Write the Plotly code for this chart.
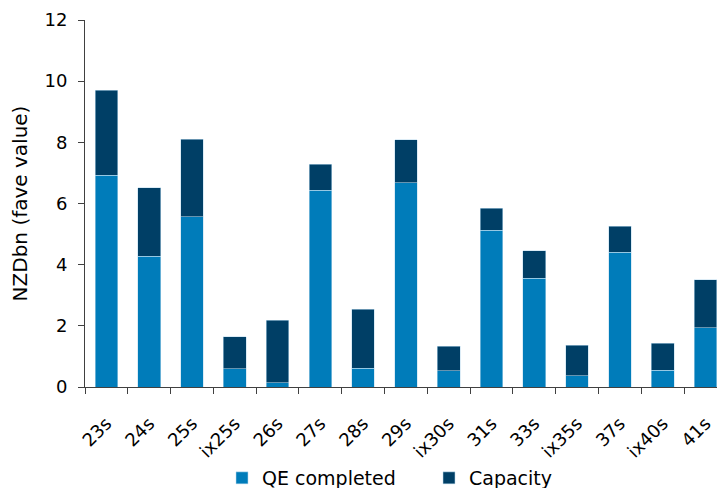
import plotly.graph_objects as go

# Bond lines and holdings (NZD bn, face value)
bonds = ["23s", "24s", "25s", "ix25s", "26s", "27s", "28s", "29s",
         "ix30s", "31s", "33s", "ix35s", "37s", "ix40s", "41s"]
qe_completed = [6.92, 4.28, 5.57, 0.59, 0.14, 6.44, 0.61, 6.68,
                0.53, 5.13, 3.56, 0.37, 4.40, 0.55, 1.93]
capacity = [2.79, 2.24, 2.53, 1.05, 2.05, 0.85, 1.94, 1.40,
            0.81, 0.72, 0.89, 0.99, 0.85, 0.88, 1.58]

y_ticks = [0, 2, 4, 6, 8, 10, 12]

FONT = "Verdana, DejaVu Sans, sans-serif"
QE_COLOR = "#007cba"
CAP_COLOR = "#003f66"
EDGE = "rgba(190,220,238,0.9)"

fig = go.Figure()
fig.add_trace(go.Bar(
    x=bonds, y=qe_completed, name="QE completed",
    marker=dict(color=QE_COLOR, line=dict(color=EDGE, width=0.6)),
))
fig.add_trace(go.Bar(
    x=bonds, y=capacity, name="Capacity",
    marker=dict(color=CAP_COLOR, line=dict(color=EDGE, width=0.6)),
))

fig.update_layout(
    barmode="stack",
    bargap=0.47,
    width=717, height=488,
    margin=dict(l=85, r=0, t=20, b=101, pad=0, autoexpand=False),
    paper_bgcolor="white", plot_bgcolor="white",
    font=dict(family=FONT, size=18, color="#000000"),
    showlegend=True,
    legend=dict(
        orientation="h",
        xref="container", x=222 / 717, xanchor="left",
        yref="container", y=10 / 488, yanchor="middle",
        font=dict(family=FONT, size=19, color="#000000"),
        itemwidth=30, entrywidth=162, entrywidthmode="pixels",
        traceorder="normal",
        bgcolor="rgba(0,0,0,0)",
    ),
    xaxis=dict(
        type="category",
        range=[-0.5, 14.27],
        automargin=False,
        showline=True, linecolor="#404040", linewidth=1,
        ticks="outside", tickson="boundaries", ticklen=6,
        tickcolor="#404040", tickwidth=1,
        tickangle=-45,
        ticklabelstandoff=18,
        tickfont=dict(family=FONT, size=18),
        showgrid=False, zeroline=False,
    ),
    yaxis=dict(
        range=[0, 12],
        automargin=False,
        tickvals=y_ticks,
        showline=True, linecolor="#404040", linewidth=1,
        ticks="outside", ticklen=6, tickcolor="#404040",
        ticklabelstandoff=7,
        tickfont=dict(family=FONT, size=18),
        showgrid=False, zeroline=False,
        title=dict(text="NZDbn (fave value)", font=dict(family=FONT, size=20),
                   standoff=11),
    ),
)

fig.write_html("out.html")
